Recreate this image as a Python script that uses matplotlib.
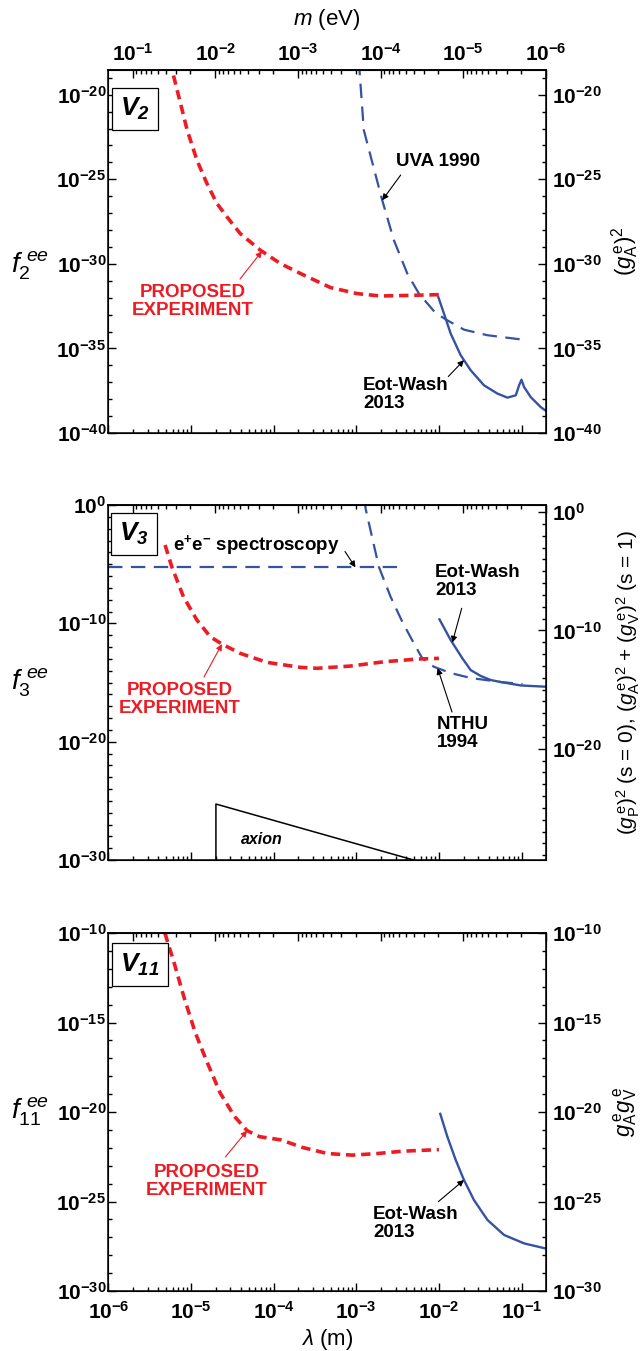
import numpy as np
import matplotlib
matplotlib.use('Agg')
import matplotlib.pyplot as plt
from matplotlib.ticker import FixedLocator, FuncFormatter, NullFormatter

plt.rcParams.update({
    'font.family': ['Liberation Sans', 'DejaVu Sans'],
    'mathtext.fontset': 'custom',
    'mathtext.rm': 'Liberation Sans',
    'mathtext.it': 'Liberation Sans:italic',
    'mathtext.bf': 'Liberation Sans:bold',
    'mathtext.bfit': 'Liberation Sans:bold:italic',
    'mathtext.sf': 'Liberation Sans',
})

# ---------------- data (log10 values) ----------------
# Panel V2
v2_red_lam = [-5.26, -5.228, -5.046, -4.928, -4.807, -4.686, -4.565, -4.404, -4.161, -3.919, -3.676, -3.313, -2.989, -2.708, -2.303, -2.0]
v2_red_f = [-18.0, -18.54, -22.09, -23.87, -25.25, -26.43, -27.22, -28.21, -29.19, -29.98, -30.57, -31.40, -31.76, -31.90, -31.86, -31.82]
v2_uva_lam = [-2.975, -2.961, -2.909, -2.686, -2.545, -2.383, -2.242, -2.040, -1.898, -1.697, -1.413, -0.989]
v2_uva_f = [-18.0, -18.54, -22.09, -26.24, -28.60, -30.57, -31.76, -32.91, -33.34, -33.89, -34.22, -34.48]
v2_ew_lam = [-2.012, -1.939, -1.858, -1.737, -1.616, -1.455, -1.292, -1.171, -1.070, -1.030, -1.001, -0.970, -0.889, -0.768, -0.686]
v2_ew_f = [-31.90, -32.94, -34.12, -35.40, -36.29, -37.18, -37.67, -37.91, -37.77, -37.18, -36.85, -37.28, -37.88, -38.47, -38.76]

# Panel V3
v3_red_lam = [-5.313, -5.232, -5.091, -4.928, -4.767, -4.625, -4.403, -4.080, -3.676, -3.474, -3.069, -2.667, -2.262, -2.0]
v3_red_f = [-3.38, -5.22, -7.75, -9.72, -11.13, -11.75, -12.54, -13.30, -13.72, -13.80, -13.61, -13.25, -13.02, -12.96]
v3_ee_lam = [-6.0, -2.504]
v3_ee_f = [-5.27, -5.27]
v3_nthu_lam = [-2.895, -2.888, -2.727, -2.585, -2.444, -2.303, -2.201, -2.061, -1.858, -1.616, -1.252, -0.989]
v3_nthu_f = [0.5, -0.28, -5.22, -7.75, -9.86, -11.69, -12.96, -13.67, -14.20, -14.62, -14.96, -15.13]
v3_ew_lam = [-2.0, -1.858, -1.716, -1.616, -1.494, -1.373, -1.252, -1.010, -0.695]
v3_ew_f = [-9.58, -11.41, -12.96, -13.95, -14.45, -14.79, -14.96, -15.25, -15.36]
axion_lam = [-4.698, -4.698, -2.307]
axion_f = [-30.0, -25.27, -30.0]

# Panel V11
v11_red_lam = [-5.316, -5.208, -5.079, -4.949, -4.819, -4.646, -4.473, -4.321, -4.170, -3.910, -3.651, -3.349, -3.046, -2.743, -2.440, -2.0]
v11_red_f = [-10.0, -11.60, -13.67, -15.55, -17.06, -18.94, -20.25, -21.04, -21.38, -21.56, -21.98, -22.32, -22.41, -22.32, -22.19, -22.10]
v11_ew_lam = [-1.988, -1.898, -1.797, -1.697, -1.576, -1.413, -1.212, -0.970, -0.686]
v11_ew_f = [-20.04, -21.38, -22.68, -23.80, -24.92, -26.03, -26.87, -27.34, -27.65]

x_major = [-6, -5, -4, -3, -2, -1]
m_major = [-1, -2, -3, -4, -5, -6]

# ---------------- style ----------------
RED = '#ec1c24'
BLUE = '#3552a3'
HBARC = 1.9733e-7  # eV m
XMIN, XMAX = 1e-6, HBARC / 1e-6 * 1.0005

W, H = 642, 1351
AX_L, AX_R = 108.3, 546.0
BOX_TOP = (70, 433)
BOX_MID = (505, 860)
BOX_BOT = (933, 1291)

fig = plt.figure(figsize=(W / 100, H / 100), dpi=100)


def make_ax(box):
    top, bottom = box
    return fig.add_axes([AX_L / W, 1 - bottom / H, (AX_R - AX_L) / W, (bottom - top) / H])


def pf(box, px, py):
    top, bottom = box
    return ((px - AX_L) / (AX_R - AX_L), (bottom - py) / (bottom - top))


def pow_fmt(v, pos):
    if v <= 0:
        return ''
    e = int(round(np.log10(v)))
    return r'$\mathbf{10^{%d}}$' % e


def lam2m(x):
    x = np.asarray(x, dtype=float)
    with np.errstate(divide='ignore', invalid='ignore'):
        return HBARC / x


def tick_style(a):
    a.tick_params(which='both', direction='in', width=1.0, labelsize=15)
    a.tick_params(which='major', length=6)
    a.tick_params(which='minor', length=3)


def decades(lo, hi, step=1):
    lo_i = int(np.ceil(lo - 1e-9))
    hi_i = int(np.floor(hi + 1e-9))
    vals = [d for d in range(lo_i, hi_i + 1) if d % step == 0]
    return 10.0 ** np.array(vals, dtype=float)


def setup_axes(box, ymin, ymax, step, right_shift=0.0, xlabels=False, mlabels=False):
    ax = make_ax(box)
    ax.set_xscale('log')
    ax.set_yscale('log')
    ax.set_xlim(XMIN, XMAX)
    ax.set_ylim(10.0 ** ymin, 10.0 ** ymax)
    ax.xaxis.set_major_locator(FixedLocator(10.0 ** np.array(x_major, dtype=float)))
    minors = [s * 10.0 ** d for d in x_major for s in range(2, 10)]
    ax.xaxis.set_minor_locator(FixedLocator(minors))
    ax.xaxis.set_minor_formatter(NullFormatter())
    if xlabels:
        ax.xaxis.set_major_formatter(FuncFormatter(pow_fmt))
    else:
        ax.xaxis.set_major_formatter(NullFormatter())
    ax.yaxis.set_major_locator(FixedLocator(decades(ymin, ymax, step)))
    ax.yaxis.set_minor_locator(FixedLocator(decades(ymin, ymax)))
    ax.yaxis.set_major_formatter(FuncFormatter(pow_fmt))
    ax.yaxis.set_minor_formatter(NullFormatter())
    tick_style(ax)
    ax.tick_params(axis='y', pad=1.5)
    ax.tick_params(axis='x', pad=7)
    for s in ax.spines.values():
        s.set_linewidth(1.1)

    # right twin axis
    tw = ax.twinx()
    tw.set_yscale('log')
    rlo, rhi = ymin + right_shift, ymax + right_shift
    tw.set_ylim(10.0 ** rlo, 10.0 ** rhi)
    tw.yaxis.set_major_locator(FixedLocator(decades(rlo, rhi, step)))
    tw.yaxis.set_minor_locator(FixedLocator(decades(rlo, rhi)))
    tw.yaxis.set_major_formatter(FuncFormatter(pow_fmt))
    tw.yaxis.set_minor_formatter(NullFormatter())
    tick_style(tw)
    tw.tick_params(axis='y', pad=4)

    # top axis in particle mass
    sec = ax.secondary_xaxis('top', functions=(lam2m, lam2m))
    sec.set_xticks(10.0 ** np.array(m_major, dtype=float))
    sec.set_xticks([s * 10.0 ** d for d in m_major[1:] for s in range(2, 10)], minor=True)
    tick_style(sec)
    sec.tick_params(axis='x', pad=4)
    if mlabels:
        sec.xaxis.set_major_formatter(FuncFormatter(pow_fmt))
    else:
        sec.xaxis.set_major_formatter(NullFormatter())
    sec.xaxis.set_minor_formatter(NullFormatter())
    sec.spines['top'].set_linewidth(1.1)
    return ax, tw


def line(ax, lam, f, color, style, lw):
    ax.plot(10.0 ** np.array(lam), 10.0 ** np.array(f), color=color, lw=lw,
            dashes=style if style else (None, None), solid_capstyle='butt',
            dash_capstyle='butt', clip_on=True)


RED_DASH = (2.6, 1.6)
BLUE_DASH = (6.5, 3.8)


def arrow(ax, box, lam_arr, f_arr, lt, tail_px, color):
    yt = np.interp(lt, lam_arr, f_arr)
    ax.annotate('', xy=(10.0 ** lt, 10.0 ** yt), xycoords='data',
                xytext=pf(box, *tail_px), textcoords='axes fraction',
                arrowprops=dict(arrowstyle='-|>', color=color, lw=0.8,
                                mutation_scale=9, shrinkA=0, shrinkB=0))


def label(ax, box, px, py, s, color='black', ha='left', va='top', size=13.5, **kw):
    ax.text(*pf(box, px, py), s, transform=ax.transAxes, color=color, ha=ha, va=va,
            fontsize=size, fontweight='bold', linespacing=1.05, **kw)


def vbox(ax, box, px, py, s):
    ax.text(*pf(box, px, py), s, transform=ax.transAxes, ha='center', va='center',
            fontsize=19,
            bbox=dict(boxstyle='square,pad=0.3', fc='white', ec='black', lw=0.9))


# ---------------- panel V2 ----------------
ax1, tw1 = setup_axes(BOX_TOP, -40, -18.54, 5, mlabels=True)
line(ax1, v2_uva_lam, v2_uva_f, BLUE, BLUE_DASH, 1.6)
line(ax1, v2_ew_lam, v2_ew_f, BLUE, None, 1.7)
line(ax1, v2_red_lam, v2_red_f, RED, RED_DASH, 2.6)
vbox(ax1, BOX_TOP, 135, 109, r'$\mathbfit{V}_{\mathbfit{2}}$')
label(ax1, BOX_TOP, 193, 284, 'PROPOSED\nEXPERIMENT', color=RED, ha='center', multialignment='center')
arrow(ax1, BOX_TOP, v2_red_lam, v2_red_f, -4.141, (240, 279), RED)
label(ax1, BOX_TOP, 396, 161.5, 'UVA 1990', va='center')
arrow(ax1, BOX_TOP, v2_uva_lam, v2_uva_f, -2.686, (400.7, 175), 'black')
label(ax1, BOX_TOP, 363, 377, 'Eot-Wash\n2013', multialignment='left')
arrow(ax1, BOX_TOP, v2_ew_lam, v2_ew_f, -1.697, (448.3, 376.5), 'black')
ax1.text(-0.18, 0.46, r'$f_{\mathrm{2}}^{\ ee}$', transform=ax1.transAxes, fontsize=20,
         ha='center', va='center')
ax1.text(1.18, 0.5, r'$(g_{\mathrm{A}}^{\,\mathrm{e}})^{2}$', transform=ax1.transAxes,
         fontsize=16, rotation=90, ha='center', va='center')
fig.text(327 / W, 1 - 20 / H, r'$m$ (eV)', ha='center', va='center', fontsize=16)

# ---------------- panel V3 ----------------
ax2, tw2 = setup_axes(BOX_MID, -30, 0, 10, right_shift=0.6)
line(ax2, v3_ee_lam, v3_ee_f, BLUE, BLUE_DASH, 1.6)
line(ax2, v3_nthu_lam, v3_nthu_f, BLUE, BLUE_DASH, 1.6)
line(ax2, v3_ew_lam, v3_ew_f, BLUE, None, 1.7)
line(ax2, v3_red_lam, v3_red_f, RED, RED_DASH, 2.6)
ax2.plot(10.0 ** np.array(axion_lam), 10.0 ** np.array(axion_f), color='black', lw=1.1,
         clip_on=False)
ax2.text(*pf(BOX_MID, 262, 840), 'axion', transform=ax2.transAxes, ha='center', va='center',
         fontsize=11.5, fontweight='bold', fontstyle='italic')
vbox(ax2, BOX_MID, 134, 534, r'$\mathbfit{V}_{\mathbfit{3}}$')
label(ax2, BOX_MID, 173, 545, r'$\mathbf{e^{+}e^{-}}$ spectroscopy', va='center')
arrow(ax2, BOX_MID, v3_ee_lam, v3_ee_f, -3.01, (345, 551.5), 'black')
label(ax2, BOX_MID, 435, 564, 'Eot-Wash\n2013', multialignment='left')
arrow(ax2, BOX_MID, v3_ew_lam, v3_ew_f, -1.838, (461.7, 608.3), 'black')
label(ax2, BOX_MID, 437, 716, 'NTHU\n1994', multialignment='left')
arrow(ax2, BOX_MID, v3_nthu_lam, v3_nthu_f, -2.016, (452, 712), 'black')
label(ax2, BOX_MID, 180, 682, 'PROPOSED\nEXPERIMENT', color=RED, ha='center', multialignment='center')
arrow(ax2, BOX_MID, v3_red_lam, v3_red_f, -4.625, (204, 677), RED)
ax2.text(-0.18, 0.5, r'$f_{\mathrm{3}}^{\ ee}$', transform=ax2.transAxes, fontsize=20,
         ha='center', va='center')
ax2.text(1.187, 0.5,
         r'$(g_{\mathrm{P}}^{\,\mathrm{e}})^{2}$ (s = 0), $(g_{\mathrm{A}}^{\,\mathrm{e}})^{2}$ + $(g_{\mathrm{V}}^{\,\mathrm{e}})^{2}$ (s = 1)',
         transform=ax2.transAxes, fontsize=15, rotation=90, ha='center', va='center')

# ---------------- panel V11 ----------------
ax3, tw3 = setup_axes(BOX_BOT, -30, -10, 5, xlabels=True)
line(ax3, v11_ew_lam, v11_ew_f, BLUE, None, 1.7)
line(ax3, v11_red_lam, v11_red_f, RED, RED_DASH, 2.6)
vbox(ax3, BOX_BOT, 140, 964.5, r'$\mathbfit{V}_{\mathbfit{11}}$')
label(ax3, BOX_BOT, 207, 1164, 'PROPOSED\nEXPERIMENT', color=RED, ha='center', multialignment='center')
arrow(ax3, BOX_BOT, v11_red_lam, v11_red_f, -4.321, (225.4, 1157), RED)
label(ax3, BOX_BOT, 373, 1206, 'Eot-Wash\n2013', multialignment='left')
arrow(ax3, BOX_BOT, v11_ew_lam, v11_ew_f, -1.697, (438.3, 1201.7), 'black')
ax3.text(-0.18, 0.5, r'$f_{\mathrm{11}}^{\ ee}$', transform=ax3.transAxes, fontsize=20,
         ha='center', va='center')
ax3.text(1.18, 0.5, r'$g_{\mathrm{A}}^{\,\mathrm{e}}g_{\mathrm{V}}^{\,\mathrm{e}}$', transform=ax3.transAxes,
         fontsize=16, rotation=90, ha='center', va='center')
fig.text(327 / W, 1 - 1339 / H, r'$\lambda$ (m)', ha='center', va='center', fontsize=16)

fig.savefig('out.png', dpi=100)
